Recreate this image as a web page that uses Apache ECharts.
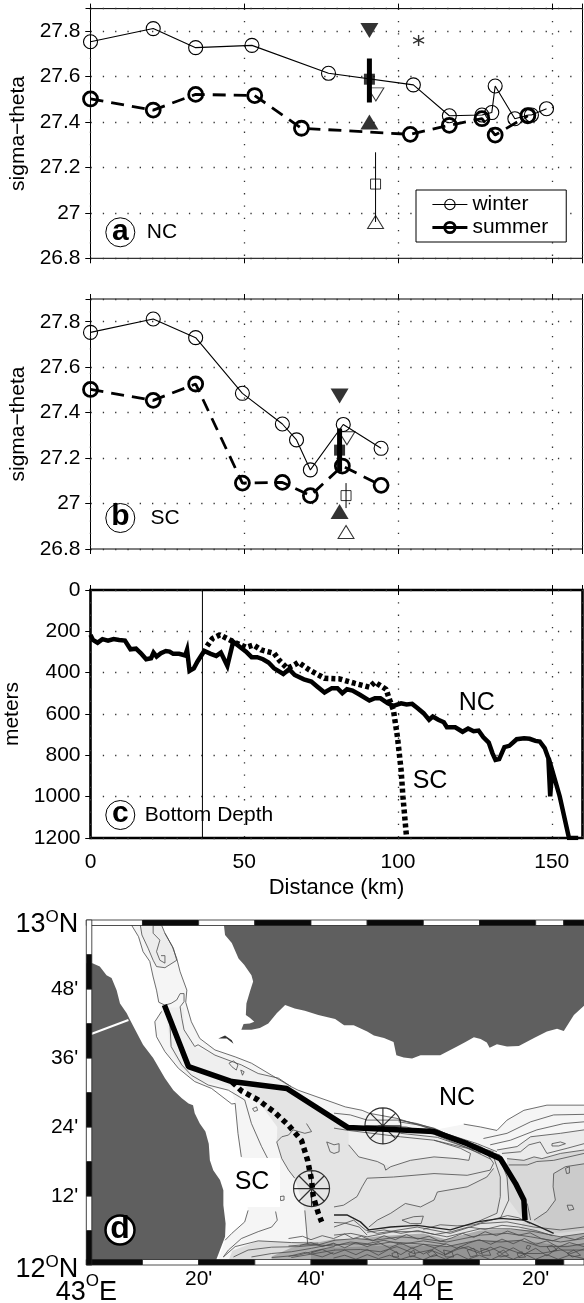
<!DOCTYPE html>
<html>
<head>
<meta charset="utf-8">
<style>
  html, body { margin: 0; padding: 0; background: #fff; }
  #chart { width: 584px; height: 1303px; }
</style>
<script src="https://cdn.jsdelivr.net/npm/echarts@6/dist/echarts.min.js"></script>
</head>
<body>
<div id="chart"></div>
<script>
// panel a, NC: distance (km), sigma-theta
const aWinter = [[0,27.754],[20.4,27.812],[34.2,27.728],[52.5,27.738],[77.4,27.615],[105,27.564],[116.7,27.428],[127.3,27.431],[130.5,27.442],[131.6,27.559],[138,27.415],[142.5,27.431],[143.4,27.431],[148.3,27.459]];
const aSummer = [[0,27.502],[20.4,27.453],[34.2,27.522],[53.4,27.517],[68.6,27.373],[104,27.346],[116.7,27.386],[127.3,27.415],[131.6,27.343],[142.2,27.428]];
const aFillDown = [[90.7,27.803]];
const aFillUp = [[90.7,27.4]];
const aFillSquare = [[90.7,27.589]];
const aFillBar = [[90.7,27.68],[90.7,27.486]];
const aOpenDown = [[92.8,27.522]];
const aOpenUp = [[92.7,26.96]];
const aOpenSquare = [[92.7,27.127]];
const aOpenBar = [[92.7,27.267],[92.7,26.96]];
const aStar = [[106.7,27.76]];

// panel b, SC
const bWinter = [[0,27.753],[20.4,27.812],[34.2,27.73],[49.4,27.485],[62.4,27.35],[67,27.28],[71.5,27.148],[82.2,27.348],[94.5,27.243]];
const bSummer = [[0,27.502],[20.4,27.454],[34.2,27.526],[49.4,27.09],[62.4,27.093],[71.5,27.035],[81.9,27.165],[94.5,27.08]];
const bFillDown = [[81,27.473]];
const bFillUp = [[81,26.965]];
const bFillSquare = [[81,27.235]];
const bFillBar = [[81,27.33],[81,27.14]];
const bOpenDown = [[83.4,27.287]];
const bOpenUp = [[83.1,26.875]];
const bOpenSquare = [[83.1,27.035]];
const bOpenBar = [[83.1,27.09],[83.1,26.98]];

// panel c, bottom depth in meters
const depthNC = [[0,217],[0.8,242],[2.3,255],[3.9,238],[5.7,245],[7.5,237],[9.3,242],[11.2,245],[13,287],[14.8,284],[16.4,306],[18.1,335],[19.7,330],[20.5,303],[21.5,322],[22.9,306],[24.5,295],[25.7,298],[26.9,309],[28.8,309],[30.8,317],[31.4,290],[32.2,391],[33.6,379],[34.8,346],[37,295],[39.1,309],[40.9,319],[42.4,303],[44.5,367],[46.4,250],[48.2,271],[50.6,298],[52.4,325],[54.2,325],[56.1,335],[57.9,351],[59.7,379],[62.7,406],[64.6,383],[66.4,411],[69.4,432],[71.8,443],[73.7,467],[76.1,496],[78.5,475],[80.3,475],[81.9,499],[83.4,480],[85.2,487],[87.6,507],[90.7,535],[92.5,524],[94.3,524],[96.7,548],[98.5,561],[101,548],[102.8,554],[104.6,551],[106.4,572],[108.3,596],[110.1,628],[111.3,612],[113.1,628],[114.9,640],[115.9,664],[118.6,664],[121,686],[122.8,670],[124.6,683],[126.2,680],[127.7,712],[129.5,738],[130.7,789],[131.7,822],[132.9,818],[134.6,760],[136.2,754],[138.6,722],[141,717],[142.8,720],[144.7,730],[146.1,733],[147.7,765],[148.9,814],[149.5,999],[150.1,870],[152.6,999],[155.6,1200],[158.6,1200]];
const depthSC = [[37.9,271],[39.7,234],[42.1,217],[46.4,250],[50.6,277],[53,266],[55.5,290],[59.7,306],[61.5,342],[64,379],[66.4,362],[67.6,350],[71.2,387],[76.1,427],[80.9,430],[85.8,451],[90.7,470],[92.5,446],[96.1,480],[97.3,532],[98.5,580],[99.8,709],[101,870],[101.6,999],[102.8,1200]];
const sillLine = [[36.4,0],[36.4,1200]];

// panel d, map: minutes east of 43E, minutes north of 12N
const yemen = [[24.4,60],[24.7,57.4],[25.9,56],[27.1,53.3],[28.1,52.2],[29.4,50.4],[29.7,49.3],[29.2,47.8],[28.5,45.5],[28.4,43.5],[29.1,43],[29.9,42.3],[29.1,42],[28,41.9],[27.6,40.9],[29.4,40.9],[30.9,41.2],[32.4,42],[33.9,43.8],[35.4,45.2],[37.1,44.6],[38.9,44.2],[41.3,43.5],[44.3,42.8],[45.9,41.7],[47.6,41.7],[50,40.6],[51.2,39.9],[53,39.5],[54.7,38.8],[55.2,36.5],[56.5,36.1],[58,35.9],[59.5,36.5],[63,36.5],[66,38],[67.5,38.8],[69,39.6],[70.2,39.3],[71.3,38.7],[71.8,37.8],[73.1,38.4],[74.9,38],[77,38.1],[79.7,39.5],[82,40.6],[83.8,41.1],[85,40.7],[86.8,43.5],[88.6,45.1],[88.6,60]];
const africa = [[0,52.5],[1.1,52.5],[2.4,51.9],[3.6,50.4],[4.5,49.9],[5.4,47.8],[6,45.5],[7.2,43.8],[7.7,42.8],[8.7,40.9],[10.1,38.3],[11.9,36],[14,32.5],[15.5,30.4],[17,29],[18.2,28.1],[19,27.8],[19.3,26.4],[20.2,24.6],[21.2,23.2],[21.8,21.1],[22,18.2],[22.6,16.5],[23.8,14.8],[24.4,13],[24.4,10.4],[24.8,7.2],[24.7,4.9],[23.8,2.6],[23.2,1.1],[23,0],[0,0]];
const cable = [[0.4,40],[7.5,42.6]];
const shelfLight = [[7.5,60],[9.3,57.1],[10.1,54.5],[11.3,52.8],[11.9,50.1],[12.5,47.8],[12.9,45.7],[13.4,44.1],[12.2,42.3],[12.5,39.7],[14,37.1],[16.4,34.2],[19.3,31.9],[22.3,30.7],[25.9,30.4],[26.5,28.1],[27,22.9],[27.6,18.8],[28.8,9.5],[28.2,7.5],[25.9,5.5],[24.7,4.3],[23.5,1],[23,0],[88.6,0],[88.6,27.8],[82,27.8],[77.9,26.9],[74.9,25.2],[73.1,23.4],[70.2,24],[67.2,24.5],[61.9,23.5],[55.3,25.5],[50.3,26.4],[49.1,26.9],[46.1,27.5],[44.1,28.2],[37.7,30.4],[36.5,31],[33,33],[29.4,35.1],[26.5,36.2],[22.9,37.4],[20.2,39.4],[18.7,42.3],[17.7,45.7],[17.9,47.8],[16.7,51],[16.1,53.3],[15.3,55.4],[14,57.7],[13.4,60]];
const channelInner = [[9.6,59.2],[9.9,57.4],[11,55.1],[11.9,53],[12.5,51.9],[14,51.7],[16.1,53],[15.5,55.1],[14,57.7],[13.4,59.1],[11.9,59.1]];
const strip = [[14,44.8],[17.4,44.8],[17.4,40.9],[19.3,38],[22.9,36.5],[25.9,35.4],[27.6,34.8],[30.6,33.3],[34.2,32.5],[36.5,31],[32,31.5],[26,31],[19,32.2],[16.4,34.8],[14.9,38]];
const midBasin = [[28,31],[31,28],[34,24],[33.9,21.4],[34.8,18.5],[36,16.5],[37.1,15.1],[38.9,9.5],[39.2,6.1],[39.4,3.7],[39.4,0],[88.6,0],[88.6,19.4],[83.2,18.2],[78.5,17.4],[75.2,17.4],[73.4,19.1],[66.8,21.5],[61.8,23],[46.6,23.9],[35.7,30.7]];
const upperFlat = [[46.7,23.6],[61.8,22.8],[66.8,21],[68.4,19.4],[68.1,18.2],[66,18.5],[61.9,18.8],[57.7,18.2],[54.2,17.1],[51.8,18],[48.5,18.8],[46.7,20.9]];
const lowerFlat = [[50.3,6.6],[51.8,7.8],[54.2,9],[56.8,10.7],[59.5,10.1],[61.9,11.3],[62.5,12.7],[67.8,13.6],[71.3,15.3],[72.5,16.8],[73.7,15.3],[73.7,11.9],[73.1,9],[69.6,7.5],[64.8,6.1],[58.9,6.9],[54.2,6.6]];
const rightSlope = [[74.9,18.5],[77.9,18.2],[79.7,18.8],[81.1,18.5],[84.4,19.4],[88.6,20],[88.6,0],[75,0],[77.9,7.8],[75.2,11.3],[74.9,15.3]];
const rightBasin = [[88.6,17.6],[85.3,17.1],[83.2,15.9],[83.1,13.6],[83.5,11.3],[82,9.3],[79.7,7.8],[83,5.5],[88.6,6]];
const northStep = [[73.1,20],[76.7,20.6],[79.1,22.3],[84.4,22.9],[88.6,23.5],[88.6,20],[84.4,19.4],[81.1,18.5],[79.7,18.8],[77.9,18.2],[74.9,18.5]];
const southShelf = [[26,2.5],[30.6,4.2],[36.5,3.9],[44.2,4.5],[44.2,0],[25,0]];
const deepA = [[36.5,3],[44.1,4.5],[48,4.5],[52,5],[60,5.5],[64,4.5],[70,6],[75,6.2],[80,6],[84,4.9],[88.6,5.5],[88.6,0],[33,0],[33,1.5]];
const deepB = [[44,3],[55,3.5],[64,3.2],[70,4.3],[77,4.3],[84,3.5],[88.6,3.7],[88.6,0],[40,0],[40,2.5]];

const contours = [
  [[7.5,60],[9.3,57.1],[10.1,54.5],[11.3,52.8],[11.9,50.1],[12.5,47.8],[12.9,45.7]],
  [[9.6,59.2],[9.9,57.4],[11,55.1],[11.9,53],[12.5,51.9],[14,51.7],[16.1,53],[15.5,55.1],[14,57.7],[13.4,59.1],[11.9,59.1],[11.9,57.7],[13.1,56.5],[12.5,54.5],[13.1,53],[14,52.5],[14,53.8],[13.3,53.8]],
  [[14,57.7],[15.3,55.4],[16.1,53.3],[16.7,51],[17.9,47.8],[17.7,45.7],[18.7,42.3],[20.2,39.4],[22.9,37.4],[26.5,36.2],[29.4,35.1],[33,33],[36.5,31],[37.7,30.4],[44.1,28.2]],
  [[12.9,45.7],[14,45.2],[15.1,45.5],[16.1,46.1],[16.7,47.2],[17.4,47.2],[17.4,45.8],[16.7,44.9],[17,42.9],[17.4,40.9],[19.3,38],[19.9,38.3],[22.9,36.5],[25.9,35.4],[27.6,34.8],[30.6,33.3],[34.2,32.5],[36.5,31]],
  [[13.4,44.1],[12.2,42.3],[12.5,39.7],[14,37.1],[16.4,34.2],[19.3,31.9],[22.3,30.7],[25.9,28],[26.5,28.1],[27,22.9],[27.6,18.8]],
  [[14.9,41.7],[15.1,38],[17,34.8],[18.7,33],[21.7,31.3],[25.3,30.4],[28.2,28.7],[29.4,24.6],[31.2,20.6],[32.3,18.5]],
  [[25.4,35.1],[26.2,35.5],[27,34.8],[26.7,33.9],[25.9,34.5],[25.4,35.1]],
  [[27.5,33.9],[28.1,33.6],[27.8,33],[27.5,33.9]],
  [[37.1,15.1],[36,16.5],[34.8,18.5],[33.9,21.4],[34.8,22.3],[36,22.6],[36.8,23.5],[38.9,22.9],[40.1,23.2],[39.2,24.6]],
  [[38.9,9.5],[39.2,6.1],[39.4,3.7]],
  [[28.8,9.5],[28.2,7.5],[25.9,5.5],[24.7,4.3]],
  [[33.7,9.3],[34,7.8],[33,6.6],[30.6,5.8],[27.6,4.6],[25.3,2.6],[24.4,1.4]],
  [[34.5,11.9],[35.2,12],[35.2,11.3],[34.6,11.2],[34.5,11.9]],
  [[29.6,27.2],[30.3,27.5],[30.5,26.9],[29.9,26.7],[29.6,27.2]],
  [[24.4,1.4],[26.5,3.2],[30.6,4.2],[36.5,3.9],[41.3,3.8]],
  [[26.2,1.4],[28.8,2.6],[33,3.1],[37.7,3.2],[41.3,3.5],[44.2,4.3]],
  [[29.4,1.4],[33,2],[36.5,2.3],[40.1,2.9],[44.2,3.7]],
  [[33,1.3],[37.7,1.7],[41.3,2.6],[44.2,3.2]],
  [[36.5,1.3],[40.7,2],[44.2,2.6]],
  [[44.1,28.2],[46.1,27.5],[49.1,26.9],[50.3,26.4],[55.3,25.5],[61.9,23.5],[69.6,21.1],[73.1,19.7]],
  [[44.1,26.4],[47,26.1],[50,25.2],[55.9,25.2],[61.9,23.8],[69,20.6],[73.7,19.1]],
  [[55.6,25.2],[58.9,24.6],[62.5,23.5],[67.8,21.1],[72.5,19.7]],
  [[55.6,24.9],[59.5,24.3],[63.6,22.9],[70.2,20.6],[74.3,18.2]],
  [[52,24.2],[57,24],[62,22.7],[68,20.3],[72,18.4]],
  [[44.1,23.8],[46.7,23.4],[55.9,22.3],[61.9,21.7],[67.8,20.3],[70.2,19.4]],
  [[55.9,22.9],[62.5,22.2],[69,20]],
  [[67.2,24.5],[70.2,24],[73.1,23.4],[74.9,25.2],[77.9,26.9],[82,27.8],[88.6,27.8]],
  [[70.7,22],[74.9,22.9],[79.1,24.9],[83.2,26.1],[88.6,26.2]],
  [[71.9,20.9],[75.5,21.7],[80.2,23.5],[85,24.6],[88.6,24.9]],
  [[73.1,20],[76.7,20.6],[79.1,22.3],[84.4,22.9],[88.6,23.5]],
  [[74,19.4],[77.3,19.7],[78.8,20.9],[80.8,21.4],[82,19.4],[85.6,20.3],[88.6,21.1]],
  [[82.9,21.1],[84.4,21.4],[85.3,21.1],[84.1,20.7],[82.9,20.7],[82.9,21.1]],
  [[74.9,18.5],[77.9,18.2],[79.7,18.8],[81.1,18.5],[84.4,19.4],[88.6,20]],
  [[75.2,17.4],[78.5,17.4],[80.2,18],[83.2,18.2],[88.6,19.4]],
  [[46.7,20.9],[48.5,18.8],[51.8,18],[53,17.4],[53.3,16.5],[54.2,17.1],[57.7,18.2],[61.9,18.8],[66,18.5],[68.1,18.2],[68.4,19.4],[66.6,20.3],[61.9,21.7]],
  [[44.1,10.1],[45.8,10.4],[48.2,11.9],[49.1,13.6],[50,15.1],[54.7,15.3],[61.9,15.9],[67.8,15.6],[71.9,16.5],[72.5,17.7],[71.3,19.4]],
  [[50.3,6.6],[51.8,7.8],[54.2,9],[56.8,10.7],[59.5,10.1],[61.9,11.3],[62.5,12.7],[67.8,13.6],[71.3,15.3],[72.5,16.8]],
  [[56.2,7.8],[58.3,8.4],[60,8.5],[59.6,7.2],[57.7,7.2],[56.2,7.8]],
  [[72.5,18.8],[73.7,15.3],[73.7,11.9],[73.1,9],[69.6,7.5]],
  [[73.4,19.1],[74.9,15.3],[75.2,11.3],[73.7,8.1]],
  [[79.7,7.8],[82,9.3],[83.5,11.3],[83.1,13.6],[83.2,15.9],[85.3,17.1],[88.6,17.6]],
  [[78.5,10.7],[79.1,7.8]],
  [[85.3,16.8],[86,17.1],[86,16],[85.5,15.9],[85.3,16.8]],
  [[85.6,10.4],[86.5,10.4],[86.8,9.7],[85.9,9.5],[85.6,10.4]],
  [[42.8,21.4],[43.4,19.7],[44.1,19.4],[45,19.7],[45,21.1],[44.1,20.9],[42.8,21.4]],
  [[44.1,6.6],[47.6,7.8],[49.7,6.1],[51.8,5.5],[58.9,6.6],[64.8,5.5],[70.2,7.2],[74.9,7.5],[79.7,6.6],[84.4,6.1],[88.6,6.6]],
  [[44.1,5.2],[47.1,5.5],[50,4.9],[54.7,5.8],[59.5,5.8],[64.2,4.9],[70.2,6.3],[75.5,6.3],[79.7,5.8],[84.4,4.9],[88.6,5.5]],
  [[44.1,4.3],[48.2,4.6],[51.2,4.3],[55.9,4.9],[59.5,4.6],[64.2,4],[70.2,5.2],[74.9,5.5],[79.1,4.9],[84.4,4],[88.6,4.6]],
  [[44.1,3.5],[47.6,3.7],[51.2,3.5],[54.2,4],[58.9,3.7],[64.2,3.2],[69.6,4.3],[73.7,4],[77.3,4.3],[80.8,3.2],[85.6,3.2],[88.6,3.7]],
  [[44.1,2.6],[48.8,2.7],[52.4,2.3],[55.3,3.2],[58.3,2],[61.3,2.6],[63.6,1.7],[66.6,3.2],[70.2,2],[73.7,3.2],[77.3,2],[80.8,2],[84.4,2.6],[88.6,2.6]],
  [[57.4,2],[58.3,2.6],[58.6,1.7],[57.7,1.4],[57.4,2]],
  [[60.7,2],[61.6,2.5],[62.5,1.7],[61.3,1.4],[60.7,2]],
  [[63.6,2.6],[65.1,2.3],[65.4,1.4],[63.9,1.4],[63.6,2.6]],
  [[70.2,2.9],[71.6,2.6],[72,1.7],[70.5,1.7],[70.2,2.9]],
  [[76.7,2],[77.6,2.3],[78.2,1.4],[77,1.3],[76.7,2]],
  [[78.5,3.4],[79.1,3.3],[78.8,2.7],[78.3,2.9],[78.5,3.4]],
  [[82,3.2],[82.9,3.4],[83.8,2.6],[82.6,2.3],[82,3.2]],
  [[85.6,2],[86.8,2.6],[88,1.7],[86.5,1.4],[85.6,2]],
  [[54.4,2],[55.3,2.3],[55.6,1.4],[54.6,1.4],[54.4,2]],
  [[67.8,2.6],[69,2.9],[69.6,1.7],[68.4,1.4],[67.8,2.6]],
  [[73.1,2],[74.3,2.6],[75.2,1.7],[73.7,1.4],[73.1,2]],
  [[36,4.6],[38.5,5],[40,4.4],[42,5.1],[44,4.6],[46,5.4],[47.5,4.6],[49,5],[51,4.2],[53,5.1],[55,4.4],[57,5.3],[59,4.5],[61,5],[63,4.1],[65,4.7],[67,5.5],[69,4.8],[71,5.8],[73,5.1],[75,5.9],[77,5.2],[79,5.6],[81,4.6],[83,4.2],[85,4.9],[87,4.4],[88.6,5]],
  [[38,3.4],[40,3.9],[42,3.2],[44,3.8],[46,3],[48,3.9],[50,3.2],[52,3.9],[54,3],[56,3.8],[58,2.9],[60,3.6],[62,3],[64,3.7],[66,2.9],[68,3.8],[70,4.4],[72,3.6],[74,4.5],[76,3.7],[78,4.6],[80,3.6],[82,4.2],[84,3.1],[86,3.9],[88.6,3.2]],
  [[40,2.1],[42,2.7],[44,1.9],[46,2.6],[48,1.8],[50,2.7],[52,1.7],[54,2.8],[56,1.8],[58,3],[60,1.9],[62,2.9],[64,1.8],[66,2.7],[68,3.2],[70,2.3],[72,3.1],[74,2],[76,3],[78,1.9],[80,2.9],[82,1.6],[84,3],[86,1.9],[88.6,2.8]],
  [[44,1.2],[46,1.7],[48,1],[50,1.8],[52,1.1],[54,1.7],[56,1],[58,1.6],[60,0.9],[62,1.8],[64,1],[66,1.9],[68,1],[70,1.7],[72,0.9],[74,1.8],[76,1],[78,1.9],[80,1],[82,1.8],[84,1],[86,1.7],[88.6,1.1]],
  [[50,5.7],[53,6.1],[56,5.5],[59,6],[62,5.3],[65,5.8],[68,6.6],[71,6.2],[74,6.9],[77,6.6],[80,6],[83,5.1]],
  [[36,3.3],[40,3.6],[44,3.3],[47,4],[50,3.7],[53,4.3],[56,3.6],[60,4.2],[64,3.6]],
  [[60,6.2],[63,7],[66,6.8],[69,7],[72,7.8],[75,8.6],[77,8.2],[79,7.2]],
  [[44.1,7.4],[46,7.3],[48.6,6.6],[50,5.2]],
  [[36,1.5],[39,2.2],[42,1.4],[44,2.2]]
];
const ridgeLine = [[44.1,8.7],[46.4,8.7],[48.8,7.5],[50.3,6.1],[54.2,6.6],[58.9,6.9],[64.8,6.1],[69.6,7.5],[73.7,8.1],[77.9,7.8],[80.8,6.6],[83.2,5.5]];
const perim = [[23.5,39.4],[24.7,39.9],[25.9,39.1],[26.2,38.5],[25,39.4],[23.5,39.4]];
const trackNC = [[13.9,45.2],[18.2,34.5],[25.9,31.9],[35.7,30.7],[46.6,23.9],[61.9,23.2],[67.8,21.1],[73.7,18.5],[76.4,14.2],[77.9,11.3],[78.1,7.8]];
const trackSC = [[26,31.8],[27.6,30.3],[30.6,28.7],[33.6,26.5],[36,24.3],[38.3,21.7],[39.4,18.2],[40.1,14.8],[40.4,11.9],[41.3,9],[41.9,7.5]];
const stations = [[52.8,24.2],[40.1,13.3]];

// map frame, one stripe per pair of breaks
const topBreaks = [0,10,20,30,40,50,60,70,80,85,88.6];
const bottomBreaks = [0,10,20,30,40,50,60,70,80,85,88.6];
const leftBreaks = [0,6,12,18,24,30,36,42,48,54,60];

const sigmaTicks = { min: 26.8, max: 27.9, interval: 0.2 };
const mapXLabels = { 0: '{big|43}{sup|O}{big|E}', 20: "{small|20'}", 40: "{small|40'}", 60: '{big|44}{sup|O}{big|E}', 80: "{small|20'}" };
const mapYLabels = { 0: '{big|12}{sup|O}{big|N}', 12: "12'", 24: "24'", 36: "36'", 48: "48'", 60: '{big|13}{sup|O}{big|N}' };

const FONT = '"Liberation Sans", Arial, sans-serif';
const chart = echarts.init(document.getElementById('chart'), null, { renderer: 'canvas' });

const dots = { show: true, lineStyle: { color: '#333', width: 1.3, type: [1.3, 11] } };
const GRID_LEFT = 90.5;
const GRID_W = 492;

function xPair(gridIndex, showLabels) {
  return [
    { type: 'value', gridIndex, min: 0, max: 160, interval: 50, position: 'bottom',
      axisLine: { show: false }, axisTick: { length: 5, lineStyle: { color: '#000' } },
      splitLine: dots,
      axisLabel: showLabels ? { fontFamily: FONT, fontSize: 21, color: '#000', margin: 14, showMaxLabel: false } : { show: false },
      name: showLabels ? 'Distance (km)' : '', nameLocation: 'middle', nameGap: 39,
      nameTextStyle: { fontFamily: FONT, fontSize: 22, color: '#000' } },
    { type: 'value', gridIndex, min: 0, max: 160, interval: 50, position: 'top',
      axisLine: { show: false }, axisTick: { length: 5, lineStyle: { color: '#000' } },
      splitLine: { show: false }, axisLabel: { show: false } }
  ];
}
function yPair(gridIndex, extra, name, gap) {
  return [
    Object.assign({ type: 'value', gridIndex, position: 'left',
      axisLine: { show: false }, axisTick: { length: 5, lineStyle: { color: '#000' } },
      splitLine: dots,
      axisLabel: { fontFamily: FONT, fontSize: 21, color: '#000', margin: 10, showMaxLabel: extra.inverse ? true : false, formatter: v => String(v) },
      name, nameLocation: 'middle', nameGap: gap,
      nameTextStyle: { fontFamily: FONT, fontSize: 21, color: '#000' } }, extra),
    Object.assign({ type: 'value', gridIndex, position: 'right',
      axisLine: { show: false }, axisTick: { inside: true, length: 5, lineStyle: { color: '#000' } },
      splitLine: { show: false }, axisLabel: { show: false } }, extra)
  ];
}

// a line with hollow circles, the legend picks these up by name
function lineSeries(name, data, axis, thick) {
  return { name, type: 'line', data, xAxisIndex: axis, yAxisIndex: axis, z: 4,
    symbol: 'circle', symbolSize: 14, showSymbol: true,
    lineStyle: { color: '#000', width: thick ? 2.8 : 1.1, type: thick ? [13, 8] : 'solid' },
    itemStyle: { color: 'rgba(0,0,0,0)', borderColor: '#000', borderWidth: thick ? 2.8 : 1.1 },
    silent: true, animation: false };
}
function mark(data, axis, symbol, size, filled, rotate, stroke) {
  return { type: 'scatter', data, xAxisIndex: axis, yAxisIndex: axis, symbol, symbolSize: size, symbolRotate: rotate || 0, z: 5,
    itemStyle: filled ? { color: '#000' } : { color: 'rgba(0,0,0,0)', borderColor: '#000', borderWidth: stroke || 1 },
    silent: true, animation: false };
}
function bar(data, axis, width) {
  return { type: 'line', data, xAxisIndex: axis, yAxisIndex: axis, showSymbol: false, symbol: 'none', z: 4,
    lineStyle: { color: '#000', width }, silent: true, animation: false };
}
function obsSeries(axis, p) {
  return [
    bar(p.fillBar, axis, 5), bar(p.openBar, axis, 1),
    mark(p.fillDown, axis, 'triangle', [18, 15], true, 180),
    mark(p.fillUp, axis, 'triangle', [18, 15], true),
    mark(p.fillSquare, axis, 'rect', 11, true),
    mark(p.openDown, axis, 'triangle', [16, 13], false, 180),
    mark(p.openUp, axis, 'triangle', [16, 13], false),
    mark(p.openSquare, axis, 'rect', 10, false)
  ];
}

const MAP = 6; // axis index of the map
function polygon(points, fill, z) {
  return { type: 'custom', coordinateSystem: 'cartesian2d', xAxisIndex: MAP, yAxisIndex: MAP, z,
    data: [points[0]], silent: true, animation: false,
    renderItem: (params, api) => ({ type: 'polygon',
      shape: { points: points.map(p => api.coord(p)) }, style: { fill } }) };
}
function mapLine(data, color, width, dash, z) {
  return { type: 'line', data, xAxisIndex: MAP, yAxisIndex: MAP, showSymbol: false, symbol: 'none', z,
    lineStyle: { color, width, type: dash || 'solid', cap: 'butt' }, silent: true, animation: false };
}
// checker band along the frame, stays 5.5px thick on the inner side
function band(breaks, side, firstBlack) {
  const cells = [];
  for (let i = 0; i < breaks.length - 1; i++) cells.push([breaks[i], breaks[i + 1], (i % 2 === 0) === firstBlack ? 1 : 0]);
  return { type: 'custom', coordinateSystem: 'cartesian2d', xAxisIndex: MAP, yAxisIndex: MAP, z: 8,
    data: cells, silent: true, animation: false,
    renderItem: (params, api) => {
      const a = api.value(0), b = api.value(1), black = api.value(2);
      let x, y, w, h;
      if (side === 'left') {
        const p0 = api.coord([0, a]), p1 = api.coord([0, b]);
        x = p0[0]; y = p1[1]; w = 5.5; h = p0[1] - p1[1];
      } else {
        const p0 = api.coord([a, side === 'top' ? 60 : 0]), p1 = api.coord([b, side === 'top' ? 60 : 0]);
        x = p0[0]; w = p1[0] - p0[0]; h = 5.5; y = side === 'top' ? p0[1] : p0[1] - 5.5;
      }
      return { type: 'rect', shape: { x, y, width: w, height: h },
        style: { fill: black ? '#0a0a0a' : '#fff', stroke: '#222', lineWidth: 0.8 } };
    } };
}

const STATION_PATH = 'path://M50 2A48 48 0 1 1 49.9 2ZM50 2L50 98M2 50L98 50M16 16L84 84M84 16L16 84';
const STAR_PATH = 'path://M50 0L50 100M7 25L93 75M93 25L7 75';

const series = [
  lineSeries('winter', aWinter, 0, false),
  lineSeries('summer', aSummer, 0, true),
  ...obsSeries(0, { fillBar: aFillBar, openBar: aOpenBar, fillDown: aFillDown, fillUp: aFillUp, fillSquare: aFillSquare, openDown: aOpenDown, openUp: aOpenUp, openSquare: aOpenSquare }),
  mark(aStar, 0, STAR_PATH, 11, false, 0, 1.4),
  lineSeries('winter SC', bWinter, 2, false),
  lineSeries('summer SC', bSummer, 2, true),
  ...obsSeries(2, { fillBar: bFillBar, openBar: bOpenBar, fillDown: bFillDown, fillUp: bFillUp, fillSquare: bFillSquare, openDown: bOpenDown, openUp: bOpenUp, openSquare: bOpenSquare }),
  { type: 'line', data: depthNC, xAxisIndex: 4, yAxisIndex: 4, showSymbol: false, symbol: 'none', z: 4,
    lineStyle: { color: '#000', width: 4.5, join: 'miter' }, silent: true, animation: false },
  { type: 'line', data: depthSC, xAxisIndex: 4, yAxisIndex: 4, showSymbol: false, symbol: 'none', z: 4,
    lineStyle: { color: '#000', width: 5.5, type: [4, 3] }, silent: true, animation: false },
  { type: 'line', data: sillLine, xAxisIndex: 4, yAxisIndex: 4, showSymbol: false, symbol: 'none', z: 3,
    lineStyle: { color: '#000', width: 1 }, silent: true, animation: false },
  polygon(shelfLight, '#f5f5f5', 1),
  polygon(channelInner, '#ececec', 1),
  polygon(strip, '#efefef', 1),
  polygon(northStep, '#ebebeb', 1),
  polygon(midBasin, '#e4e4e4', 1),
  polygon(upperFlat, '#eeeeee', 1),
  polygon(lowerFlat, '#dddddd', 1),
  polygon(rightSlope, '#d8d8d8', 1),
  polygon(rightBasin, '#cbcbcb', 1),
  polygon(southShelf, '#dcdcdc', 1),
  polygon(deepA, '#adadad', 1),
  polygon(deepB, '#949494', 1),
  polygon(yemen, '#5f5f5f', 2),
  polygon(africa, '#5f5f5f', 2),
  polygon(perim, '#333333', 3),
  mapLine(cable, '#fff', 2, null, 3),
  ...contours.map(c => mapLine(c, '#4a4a4a', 0.8, null, 4)),
  mapLine(ridgeLine, '#222', 1.4, null, 4),
  mapLine(trackNC, '#000', 5.5, null, 6),
  mapLine(trackSC, '#000', 5.5, [5, 4], 6),
  { type: 'scatter', data: stations, xAxisIndex: MAP, yAxisIndex: MAP, symbol: STATION_PATH, symbolSize: 36, z: 7,
    itemStyle: { color: 'rgba(0,0,0,0)', borderColor: '#000', borderWidth: 1.2 }, silent: true, animation: false },
  band(topBreaks, 'top', false),
  band(bottomBreaks, 'bottom', true),
  band(leftBreaks, 'left', true)
];

function circled(letter, cx, cy, heavy, fontSize) {
  return [
    { type: 'circle', z: 100, shape: { cx, cy, r: 14.5 }, style: { fill: '#fff', stroke: '#000', lineWidth: heavy ? 2.5 : 1 } },
    { type: 'text', z: 101, style: { text: letter, x: cx, y: cy - 1, align: 'center', verticalAlign: 'middle', fill: '#000', font: 'bold ' + fontSize + 'px ' + FONT } }
  ];
}
function note(text, x, y, size) {
  return { type: 'text', z: 101, style: { text, x, y, align: 'center', verticalAlign: 'middle', fill: '#000', font: size + 'px ' + FONT } };
}

const option = {
  animation: false,
  backgroundColor: '#fff',
  grid: [
    { left: GRID_LEFT, top: 8.6, width: GRID_W, height: 249.7, show: true, borderColor: '#000', borderWidth: 1, backgroundColor: 'transparent', outerBoundsMode: 'none' },
    { left: GRID_LEFT, top: 299, width: GRID_W, height: 250, show: true, borderColor: '#000', borderWidth: 1, backgroundColor: 'transparent', outerBoundsMode: 'none' },
    { left: GRID_LEFT, top: 590, width: GRID_W, height: 248, show: true, borderColor: '#000', borderWidth: 2.6, backgroundColor: 'transparent', outerBoundsMode: 'none' },
    { left: 86.3, top: 920, width: 497.7, height: 345, outerBoundsMode: 'none' }
  ],
  xAxis: [
    ...xPair(0, false), ...xPair(1, false), ...xPair(2, true),
    { type: 'value', gridIndex: 3, min: 0, max: 88.6, interval: 20,
      axisLine: { show: false }, axisTick: { show: false }, splitLine: { show: false },
      axisLabel: { margin: 4, showMaxLabel: false, color: '#000', fontFamily: FONT,
        formatter: v => mapXLabels[v] || '',
        rich: {
          big: { fontFamily: FONT, fontSize: 27, color: '#000', padding: [10, 0, 0, 0] },
          sup: { fontFamily: FONT, fontSize: 17, color: '#000', padding: [0, 0, 12, 0] },
          small: { fontFamily: FONT, fontSize: 21, color: '#000' }
        } } }
  ],
  yAxis: [
    ...yPair(0, { min: sigmaTicks.min, max: sigmaTicks.max, interval: sigmaTicks.interval }, 'sigma\u2212theta', 51),
    ...yPair(1, { min: sigmaTicks.min, max: sigmaTicks.max, interval: sigmaTicks.interval }, 'sigma\u2212theta', 51),
    ...yPair(2, { min: 0, max: 1200, interval: 200, inverse: true }, 'meters', 59),
    { type: 'value', gridIndex: 3, min: 0, max: 60, interval: 12,
      axisLine: { show: false }, axisTick: { show: false }, splitLine: { show: false },
      axisLabel: { margin: 8, color: '#000', fontFamily: FONT, fontSize: 21,
        formatter: v => mapYLabels[v] || '',
        rich: {
          big: { fontFamily: FONT, fontSize: 27, color: '#000', padding: [10, 0, 0, 0] },
          sup: { fontFamily: FONT, fontSize: 17, color: '#000', padding: [0, 0, 6, 0] }
        } } }
  ],
  legend: {
    left: 416, top: 190, orient: 'vertical',
    data: [
      { name: 'winter', itemStyle: { color: 'rgba(0,0,0,0)', borderColor: '#000', borderWidth: 1.1 }, lineStyle: { color: '#000', width: 1.1, type: 'solid' } },
      { name: 'summer', itemStyle: { color: 'rgba(0,0,0,0)', borderColor: '#000', borderWidth: 2.8 }, lineStyle: { color: '#000', width: 2.8, type: 'solid' } }
    ],
    backgroundColor: '#fff', borderColor: '#000', borderWidth: 1,
    padding: [4, 18, 4, 15], itemWidth: 35, itemHeight: 13, itemGap: 2,
    textStyle: { fontFamily: FONT, fontSize: 21, color: '#000' }, selectedMode: false
  },
  series,
  graphic: [
    ...circled('a', 120.3, 232.3, false, 30),
    note('NC', 162, 232.5, 21),
    ...circled('b', 120.3, 518, false, 30),
    note('SC', 165, 518, 21),
    ...circled('c', 120.3, 815, false, 30),
    note('Bottom Depth', 209, 815.5, 21),
    note('NC', 476.7, 703, 25),
    note('SC', 430, 781, 25),
    ...circled('d', 120, 1230, true, 32),
    { type: 'rect', z: 100, shape: { x: 232, y: 1158, width: 48, height: 49 }, style: { fill: '#fff' } },
    note('SC', 252, 1182, 25),
    note('NC', 457, 1098, 25)
  ]
};
chart.setOption(option);
</script>
</body>
</html>
